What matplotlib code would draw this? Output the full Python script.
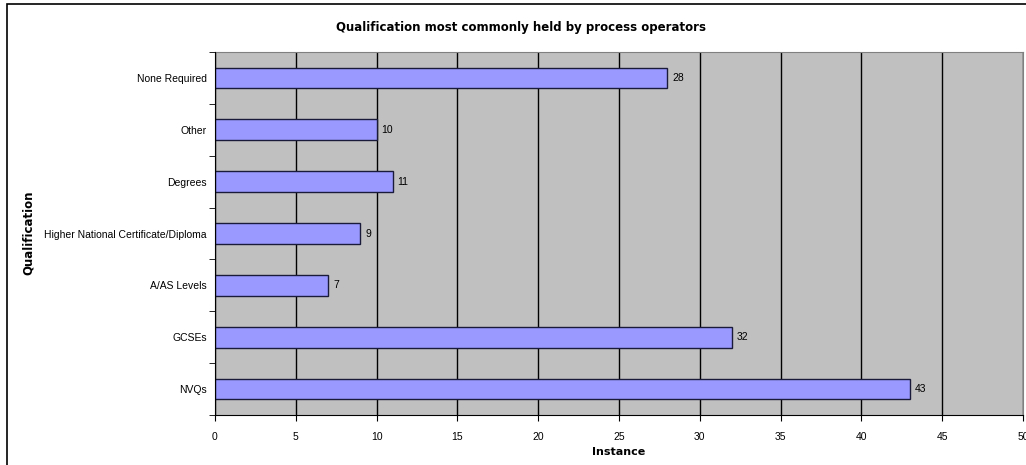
#!/usr/bin/env python3
"""qualification bar chart"""

import matplotlib.pyplot as plt
from matplotlib.patches import Rectangle

# data, top to bottom as shown
categories = ["None Required", "Other", "Degrees",
              "Higher National Certificate/Diploma", "A/AS Levels",
              "GCSEs", "NVQs"]
values = [28, 10, 11, 9, 7, 32, 43]
x_ticks = [0, 5, 10, 15, 20, 25, 30, 35, 40, 45, 50]


def plot():
    fig = plt.figure(figsize=(10.26, 4.65), dpi=100)
    # chart area border (runs off the right/bottom edge)
    fig.patches.append(Rectangle((7 / 1026, -0.1), 1.2, 1 - 4 / 465 + 0.1,
                                 transform=fig.transFigure, fill=False,
                                 edgecolor="black", linewidth=1.2))

    ax = fig.add_axes([215 / 1026, 1 - 415 / 465, 808 / 1026, 363 / 465])
    ax.set_facecolor("#c0c0c0")

    pos = list(range(len(categories)))[::-1]  # first category at top
    ax.barh(pos, values, height=0.4, color="#9999ff",
            edgecolor="#1a1a3a", linewidth=1.0, zorder=3)
    for p, v in zip(pos, values):
        ax.text(v + 0.3, p, str(v), va="center", ha="left",
                fontsize=7.5, family="Liberation Sans", zorder=4)

    ax.set_xlim(0, 50)
    ax.set_ylim(-0.5, len(categories) - 0.5)
    ax.set_xticks(x_ticks)
    ax.set_xticklabels([str(t) for t in x_ticks], family="Liberation Sans",
                       fontsize=7.5)
    ax.set_yticks(pos)
    ax.set_yticklabels(categories, family="Liberation Sans", fontsize=7.5)
    ax.tick_params(axis="y", which="major", length=0, pad=6)
    ax.set_yticks([i - 0.5 for i in range(len(categories) + 1)], minor=True)
    ax.tick_params(axis="y", which="minor", length=4, direction="out")
    ax.tick_params(axis="x", length=4, direction="out", pad=8)

    ax.grid(axis="x", color="black", linewidth=1.0, zorder=1)
    ax.set_axisbelow(True)
    for s in ["top", "right"]:
        ax.spines[s].set_color("#808080")
    ax.spines["left"].set_zorder(5)

    ax.set_xlabel("Instance", fontweight="bold", fontsize=8, labelpad=4)
    fig.text(28 / 1026, 1 - 233 / 465, "Qualification", rotation=90,
             fontweight="bold", fontsize=8.5, ha="center", va="center")
    fig.text(521 / 1026, 1 - 27 / 465,
             "Qualification most commonly held by process operators",
             fontweight="bold", fontsize=8.5, ha="center", va="center")

    fig.savefig("out.png", dpi=100)


def main() -> None:
    plot()


if __name__ == "__main__":
    main()
